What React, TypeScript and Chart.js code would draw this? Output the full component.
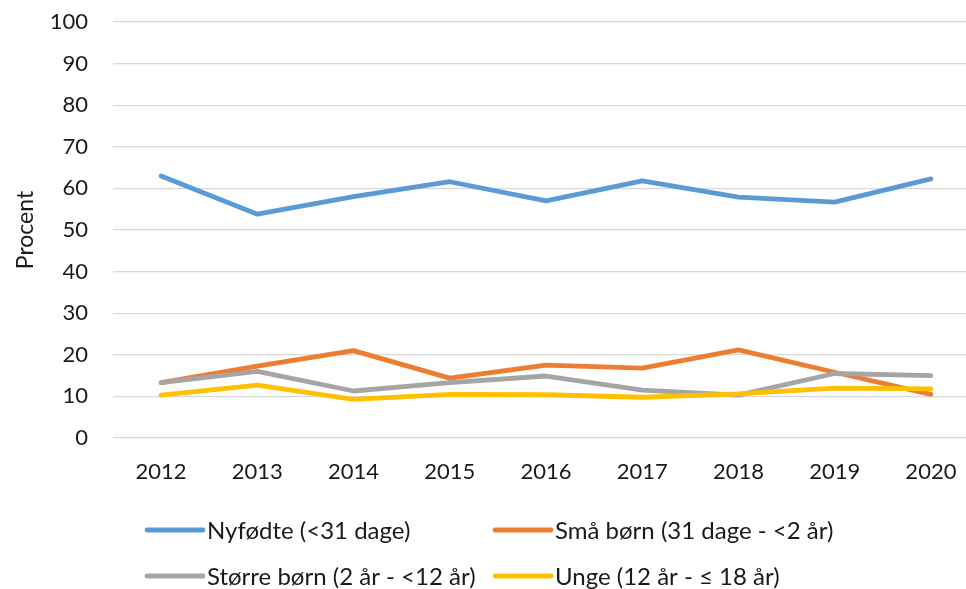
import React, { useEffect, useRef } from "react";
import { Chart, registerables } from "chart.js";

Chart.register(...registerables);

const years = ["2012", "2013", "2014", "2015", "2016", "2017", "2018", "2019", "2020"];
const nyfodte = [63.0, 53.8, 58.0, 61.6, 57.0, 61.8, 57.9, 56.7, 62.3];
const smaBorn = [13.3, 17.3, 21.0, 14.4, 17.5, 16.8, 21.2, 15.8, 10.5];
const storreBorn = [13.3, 16.0, 11.3, 13.3, 14.9, 11.5, 10.3, 15.5, 15.0];
const unge = [10.3, 12.7, 9.3, 10.5, 10.4, 9.8, 10.6, 12.0, 11.8];
const seriesLabels = [
  "Nyfødte (<31 dage)",
  "Små børn (31 dage - <2 år)",
  "Større børn (2 år - <12 år)",
  "Unge (12 år - ≤ 18 år)",
];
const colors = ["#5B9BD5", "#ED7D31", "#A5A5A5", "#FFC000"];
const FONT = "Lato, 'Open Sans', sans-serif";
const TEXT = "#1a1a1a";

const legendPlugin = {
  id: "gridLegend",
  afterDraw(chart: any) {
    const ctx = chart.ctx;
    const cols = [147, 495];
    const rows = [530, 576];
    ctx.save();
    ctx.font = `24px ${FONT}`;
    ctx.textBaseline = "middle";
    ctx.textAlign = "left";
    chart.data.datasets.forEach((ds: any, i: number) => {
      const x = cols[i % 2];
      const y = rows[Math.floor(i / 2)];
      ctx.strokeStyle = ds.borderColor;
      ctx.lineWidth = 4.8;
      ctx.lineCap = "round";
      ctx.beginPath();
      ctx.moveTo(x, y);
      ctx.lineTo(x + 56, y);
      ctx.stroke();
      ctx.fillStyle = TEXT;
      ctx.fillText(ds.label, x + 60, y + 1);
    });
    ctx.restore();
  },
};

export default function App() {
  const ref = useRef<HTMLCanvasElement>(null);
  useEffect(() => {
    if (!ref.current) return;
    const all = [nyfodte, smaBorn, storreBorn, unge];
    const chart = new Chart(ref.current, {
      type: "line",
      data: {
        labels: years,
        datasets: all.map((d, i) => ({
          label: seriesLabels[i],
          data: d,
          borderColor: colors[i],
          backgroundColor: colors[i],
          borderWidth: 4.8,
          borderCapStyle: "round",
          borderJoinStyle: "round",
          pointRadius: 0,
          tension: 0,
          fill: false,
          order: 4 - i,
        })),
      },
      options: {
        animation: false,
        responsive: false,
        maintainAspectRatio: false,
        layout: { padding: { top: 22, right: 11, bottom: 91, left: 0 } },
        plugins: { legend: { display: false }, tooltip: { enabled: false } },
        scales: {
          x: {
            offset: true,
            grid: { display: false, drawTicks: false },
            border: { display: false },
            ticks: { color: TEXT, font: { family: FONT, size: 22 }, padding: 21, maxRotation: 0 },
            afterFit: (s: any) => {
              s.height = 60;
            },
          },
          y: {
            min: 0,
            max: 100,
            ticks: { stepSize: 10, color: TEXT, font: { family: FONT, size: 22 }, padding: 4 },
            grid: { color: "#d9d9d9", lineWidth: 1.3, drawTicks: true, tickLength: 21, tickColor: "rgba(0,0,0,0)" },
            border: { display: false },
            title: {
              display: true,
              text: "Procent",
              color: TEXT,
              font: { family: FONT, size: 23 },
              padding: { top: 12, bottom: 0 },
            },
            afterFit: (s: any) => {
              s.width = 113;
            },
          },
        },
      },
      plugins: [legendPlugin],
    });
    return () => chart.destroy();
  }, []);
  return (
    <div style={{ position: "absolute", left: 0, top: 0, width: 990, height: 589 }}>
      <canvas ref={ref} width={990} height={589} style={{ display: "block" }} />
    </div>
  );
}
